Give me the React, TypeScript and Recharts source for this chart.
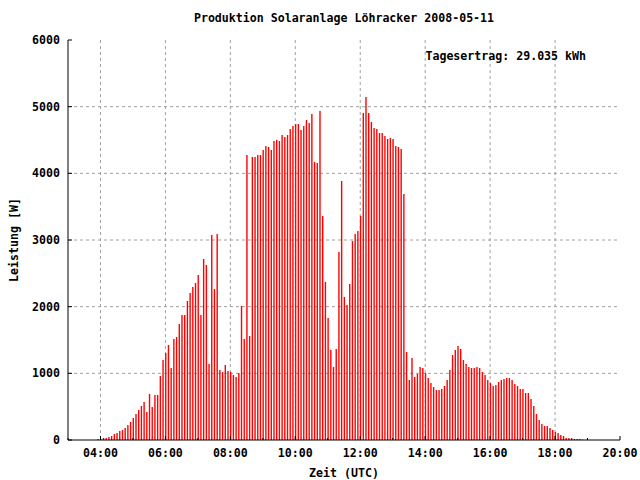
import React from 'react'
import { ComposedChart, Bar, XAxis, YAxis, CartesianGrid } from 'recharts'

const title = 'Produktion Solaranlage Löhracker 2008-05-11'
const dailyYield = 'Tagesertrag: 29.035 kWh'
const xTitle = 'Zeit (UTC)'
const yTitle = 'Leistung [W]'

// one reading every 5 minutes, power in W
const firstSample = '03:55'
const sampleMinutes = 5

// 03:55 - 07:40
const morning = [
  15, 15, 30, 30, 45, 60, 90, 105, 135, 150, 180, 225, 270, 330, 390, 450,
  510, 570, 420, 690, 495, 675, 675, 960, 1200, 1305, 1425, 1080, 1515, 1545,
  1740, 1875, 1875, 2085, 2205, 2295, 2355, 2475, 1875, 2715, 2625, 1140, 3075,
  2265, 3090, 1050
]
// 07:45 - 11:35
const forenoon = [
  1020, 1125, 1035, 1020, 975, 945, 1005, 2010, 1515, 4275, 1560, 4245, 4245,
  4275, 4275, 4350, 4410, 4395, 4350, 4485, 4500, 4485, 4575, 4545, 4575, 4665,
  4710, 4740, 4740, 4650, 4710, 4800, 4755, 4890, 4170, 4155, 4935, 3360, 2370,
  1830, 1350, 1095, 1365, 2820, 3885, 2145, 2025
]
// 11:40 - 15:30
const afternoon = [
  2340, 2985, 3090, 3135, 3360, 4905, 5145, 4905, 4770, 4680, 4665, 4605, 4605,
  4560, 4515, 4530, 4515, 4410, 4395, 4365, 3690, 1320, 900, 1230, 945, 990,
  1095, 1080, 1005, 930, 855, 795, 750, 750, 765, 810, 900, 1050, 1275, 1350,
  1410, 1365, 1200, 1140, 1095, 1080, 1080
]
// 15:35 - 18:50
const evening = [
  1095, 1080, 1020, 975, 900, 855, 810, 825, 870, 900, 915, 930, 930, 900, 840,
  810, 765, 765, 705, 705, 615, 510, 390, 300, 240, 210, 210, 180, 150, 120,
  105, 75, 60, 30, 30, 30, 15, 15, 15, 8
]

const hourTicks = [3, 4, 5, 6, 7, 8, 9, 10, 11, 12, 13, 14, 15, 16, 17, 18, 19, 20]
const gridHours = [4, 6, 8, 10, 12, 14, 16, 18]
const wattTicks = [0, 1000, 2000, 3000, 4000, 5000, 6000]

const FONT = '"DejaVu Sans Mono", "Liberation Mono", monospace'
const textStyle = { fontFamily: FONT, fontWeight: 'bold' as const, fontSize: 11.6, fill: '#000' }

const toHours = (hhmm: string) => {
  const [h, m] = hhmm.split(':').map(Number)
  return h + m / 60
}

const watts = [...morning, ...forenoon, ...afternoon, ...evening]
const data = watts.map((w, i) => ({
  t: toHours(firstSample) + (i * sampleMinutes) / 60,
  w
}))

const fmtHour = (h: number) => `${String(h).padStart(2, '0')}:00`

const BottomTick = ({ x, y, payload }: any) => {
  const h = payload.value
  const major = h % 2 === 0
  return (
    <g>
      <line x1={x} y1={y} x2={x} y2={y - (major ? 4 : 2)} stroke="#000" />
      {major && h >= 4 && (
        <text x={x} y={y + 17} textAnchor="middle" style={textStyle}>
          {fmtHour(h)}
        </text>
      )}
    </g>
  )
}

const TopTick = ({ x, y, payload }: any) => {
  const major = payload.value % 2 === 0
  return <line x1={x} y1={y} x2={x} y2={y + (major ? 4 : 2)} stroke="#000" />
}

const LeftTick = ({ x, y, payload }: any) => (
  <g>
    <line x1={x} y1={y} x2={x + 4} y2={y} stroke="#000" />
    <text x={x - 8} y={y + 4} textAnchor="end" style={textStyle}>
      {payload.value}
    </text>
  </g>
)

const RightTick = ({ x, y }: any) => (
  <line x1={x} y1={y} x2={x - 4} y2={y} stroke="#000" />
)

export default function App() {
  return (
    <div style={{ position: 'absolute', left: 0, top: 0, width: 640, height: 480, background: '#fff' }}>
      <ComposedChart
        width={640}
        height={480}
        data={data}
        margin={{ top: 40, right: 20, bottom: 10, left: 8 }}
      >
        <CartesianGrid
          stroke="#a0a0a0"
          strokeDasharray="3 3"
          verticalValues={gridHours}
          horizontalValues={[1000, 2000, 3000, 4000, 5000]}
        />
        <XAxis
          type="number"
          dataKey="t"
          domain={[3, 20]}
          allowDataOverflow
          ticks={hourTicks}
          interval={0}
          height={30}
          tickSize={0}
          tickMargin={0}
          tickLine={false}
          tick={BottomTick}
          axisLine={{ stroke: '#000' }}
        />
        <XAxis
          xAxisId="top"
          orientation="top"
          type="number"
          dataKey="t"
          domain={[3, 20]}
          allowDataOverflow
          ticks={hourTicks}
          interval={0}
          height={0}
          tickSize={0}
          tickMargin={0}
          tickLine={false}
          tick={TopTick}
          axisLine={{ stroke: '#000' }}
        />
        <YAxis
          type="number"
          domain={[0, 6000]}
          ticks={wattTicks}
          interval={0}
          width={60}
          tickSize={0}
          tickMargin={0}
          tickLine={false}
          tick={LeftTick}
          axisLine={{ stroke: '#000' }}
        />
        <YAxis
          yAxisId="right"
          orientation="right"
          type="number"
          domain={[0, 6000]}
          ticks={wattTicks}
          interval={0}
          width={0}
          tickSize={0}
          tickMargin={0}
          tickLine={false}
          tick={RightTick}
          axisLine={{ stroke: '#000' }}
        />
        <Bar dataKey="w" fill="#ff0000" barSize={1.4} isAnimationActive={false} />
      </ComposedChart>
      <svg
        width={640}
        height={480}
        style={{ position: 'absolute', left: 0, top: 0, pointerEvents: 'none' }}
      >
        <text x={344} y={22} textAnchor="middle" style={textStyle}>{title}</text>
        <text x={586} y={60} textAnchor="end" style={textStyle}>{dailyYield}</text>
        <text x={344} y={477} textAnchor="middle" style={textStyle}>{xTitle}</text>
        <text
          x={0}
          y={0}
          transform="translate(18 240) rotate(-90)"
          textAnchor="middle"
          style={textStyle}
        >
          {yTitle}
        </text>
      </svg>
    </div>
  )
}
